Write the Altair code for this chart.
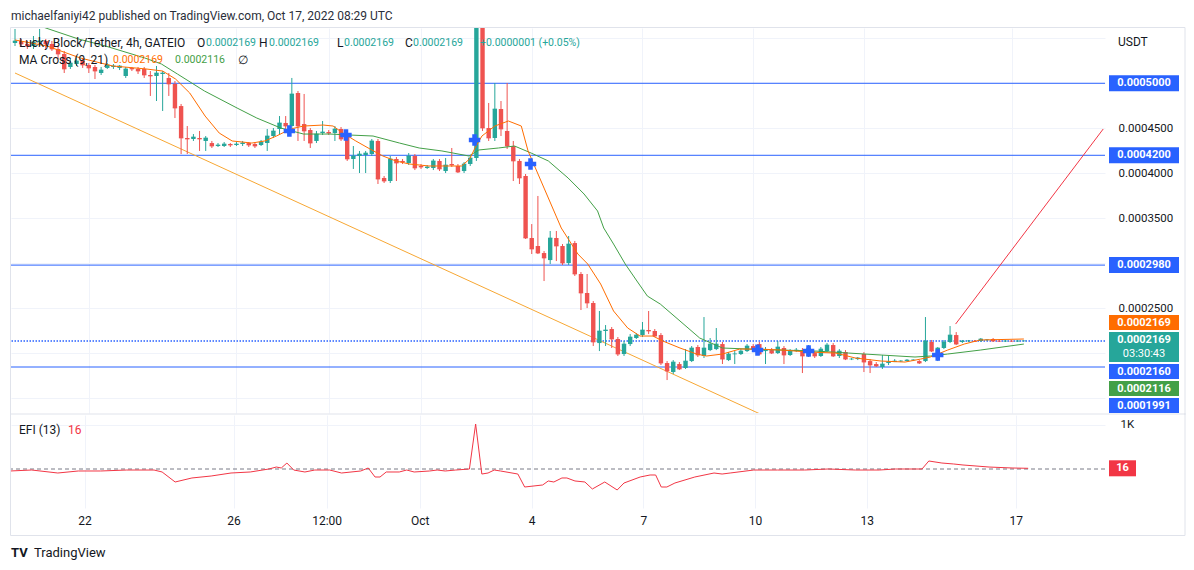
import altair as alt
import numpy as np
import pandas as pd

UNIT = 1e-7                      # prices below are in units of 0.0000001 USDT
START = pd.Timestamp("2022-09-20 00:00")
BAR_HOURS = 4

# ---------------- 4h candles (LKB/USDT) ----------------
open_ = [5447, 5470, 5436, 5414, 5459, 5470, 5436, 5381, 5325, 5181,
         5214, 5248, 5203, 5181, 5114, 5170, 5181, 5170, 5081, 5170,
         5159, 5159, 5092, 5081, 5103, 5059, 4992, 4747, 4392, 4381,
         4392, 4359, 4336, 4303, 4303, 4325, 4314, 4325, 4336, 4325,
         4314, 4336, 4414, 4492, 4559, 4525, 4892, 4547, 4481, 4359,
         4447, 4459, 4447, 4492, 4414, 4159, 4192, 4203, 4214, 4359,
         3948, 3914, 4159, 4137, 4114, 4192, 4081, 4059, 4059, 4137,
         4025, 4103, 4081, 4025, 4103, 4170, 6500, 4503, 4392, 4714,
         4470, 4303, 4137, 3970, 3281, 3192, 3114, 3036, 3281, 3192,
         3003, 3225, 2881, 2670, 2559, 2114, 2248, 2270, 2159, 1992,
         2103, 2170, 2203, 2259, 2248, 2203, 1892, 1792, 1881, 1837,
         1914, 2070, 1970, 2036, 2047, 2103, 1925, 1992, 1992, 2025,
         2081, 2103, 2025, 2036, 2003, 2059, 1981, 2025, 2036, 1970,
         2003, 1970, 2025, 2092, 1970, 2014, 1936, 1936, 1992, 1914,
         1881, 1848, 1892, 1903, 1914, 1914, 1925, 1914, 1914, 2126,
         2003, 2059, 2126, 2203, 2126, 2137, 2138, 2137, 2148, 2159,
         2137, 2135, 2137, 2135, 2137]
high = [5603, 5492, 5470, 5525, 5603, 5492, 5470, 5414, 5359, 5270,
        5303, 5270, 5225, 5203, 5181, 5225, 5214, 5203, 5181, 5181,
        5181, 5181, 5136, 5192, 5136, 5114, 5025, 4770, 4525, 4436,
        4470, 4414, 4359, 4336, 4347, 4336, 4347, 4359, 4347, 4347,
        4370, 4492, 4503, 4636, 4636, 5059, 4914, 4881, 4503, 4470,
        4581, 4481, 4525, 4514, 4436, 4303, 4248, 4248, 4381, 4381,
        3970, 4192, 4181, 4159, 4225, 4214, 4103, 4092, 4159, 4159,
        4170, 4281, 4103, 4125, 4192, 6800, 6900, 4781, 5003, 4803,
        5003, 4359, 4159, 3992, 3436, 3748, 3136, 3359, 3359, 3214,
        3303, 3248, 2903, 2881, 2581, 2470, 2314, 2292, 2181, 2137,
        2214, 2225, 2348, 2470, 2270, 2225, 1914, 1925, 1903, 2047,
        2081, 2092, 2403, 2170, 2281, 2126, 2014, 2025, 2047, 2103,
        2103, 2126, 2070, 2059, 2137, 2081, 2047, 2059, 2059, 2092,
        2025, 2070, 2114, 2114, 2047, 2036, 1948, 1959, 2014, 1936,
        1903, 1981, 1970, 1936, 1925, 1936, 1936, 1925, 2403, 2148,
        2070, 2148, 2303, 2236, 2148, 2148, 2148, 2170, 2159, 2170,
        2148, 2148, 2148, 2148, 2140]
low = [5414, 5414, 5381, 5381, 5414, 5381, 5359, 5270, 5114, 5159,
       5192, 5170, 5114, 5047, 5092, 5159, 5159, 5147, 5059, 5136,
       5103, 5059, 4859, 4803, 4692, 4859, 4614, 4214, 4214, 4359,
       4248, 4248, 4281, 4292, 4292, 4292, 4303, 4303, 4292, 4281,
       4303, 4248, 4392, 4436, 4470, 4503, 4359, 4359, 4281, 4336,
       4425, 4425, 4359, 4359, 4137, 4048, 4003, 4003, 4192, 3881,
       3892, 3892, 3914, 4103, 4092, 4036, 4048, 4048, 4036, 4025,
       4003, 4070, 4003, 4003, 4081, 4137, 4470, 4359, 4359, 4414,
       4270, 3914, 3881, 3270, 3103, 3103, 2803, 2992, 3025, 2981,
       2981, 2859, 2481, 2503, 2081, 2025, 2081, 2059, 1970, 1970,
       2081, 2159, 2181, 2214, 2181, 1870, 1703, 1770, 1814, 1826,
       1903, 1959, 1948, 2025, 2036, 1881, 1914, 1881, 1981, 2014,
       2025, 1981, 1881, 1992, 1992, 1881, 1970, 2014, 1781, 1959,
       1948, 1959, 2014, 1959, 1948, 1925, 1925, 1925, 1792, 1781,
       1848, 1826, 1870, 1903, 1903, 1914, 1914, 1881, 1903, 2014,
       1914, 2047, 2114, 2092, 2114, 2126, 2126, 2126, 2137, 2126,
       2126, 2126, 2126, 2126, 2135]
close = [5470, 5436, 5414, 5459, 5470, 5436, 5381, 5325, 5159, 5225,
         5248, 5203, 5170, 5136, 5147, 5203, 5192, 5192, 5159, 5159,
         5136, 5092, 5081, 5114, 5114, 4992, 4725, 4392, 4381, 4403,
         4381, 4392, 4303, 4314, 4325, 4314, 4325, 4336, 4314, 4303,
         4347, 4414, 4470, 4559, 4525, 4881, 4525, 4470, 4336, 4436,
         4459, 4447, 4492, 4381, 4159, 4192, 4214, 4225, 4359, 3936,
         3914, 4159, 4114, 4125, 4192, 4059, 4070, 4070, 4137, 4048,
         4092, 4092, 4014, 4103, 4170, 6600, 4503, 4392, 4714, 4492,
         4303, 4137, 3948, 3281, 3159, 3114, 3059, 3281, 3192, 3003,
         3214, 2881, 2670, 2559, 2126, 2248, 2259, 2159, 1992, 2103,
         2181, 2203, 2259, 2248, 2192, 1892, 1803, 1903, 1826, 1914,
         2059, 1981, 2059, 2103, 2103, 1936, 1992, 1994, 2025, 2081,
         2047, 1992, 2036, 2003, 2070, 1981, 2025, 2036, 1970, 2059,
         1970, 2047, 2092, 1970, 2025, 1936, 1937, 1948, 1903, 1870,
         1859, 1881, 1903, 1914, 1915, 1925, 1926, 1892, 2137, 2025,
         2059, 2126, 2203, 2103, 2137, 2138, 2132, 2159, 2150, 2137,
         2135, 2137, 2135, 2137, 2138]

# MA Cross (9, 21) lines: bar number -> value
ma9_bar = [0, 5.2, 10.6, 15.9, 21.3, 24.0, 26.1, 28.4, 30.9, 33.2, 35.3, 38.5, 40.6, 42.5,
           44.8, 46.9, 50.1, 51.7, 53.3, 55.4, 57.7, 59.8, 61.9, 64.1, 67.3, 70.6, 72.6,
           73.9, 74.7, 75.9, 78.0, 80.2, 82.3, 83.4, 86.0, 88.8, 91.5, 93.1, 95.2, 97.3,
           99.6, 101.6, 103.7, 105.3, 108.1, 110.8, 112.4, 115.0, 117.8, 121.0, 124.7,
           129.0, 133.4, 136.6, 140.8, 144.7, 147.2, 148.8, 151.6, 154.3, 156.9, 164]
ma9_val = [5481, 5414, 5281, 5192, 5159, 5136, 5047, 4892, 4636, 4447, 4359, 4336, 4359, 4414,
           4492, 4525, 4536, 4525, 4447, 4359, 4270, 4192, 4137, 4103, 4081, 4081, 4081,
           4159, 4270, 4414, 4525, 4581, 4525, 4248, 3836, 3392, 3103, 2992, 2770, 2470,
           2281, 2192, 2192, 2137, 2059, 1992, 1970, 1992, 2047, 2047, 2036,
           2014, 2003, 1948, 1914, 1903, 1936, 1959, 2036, 2103, 2148, 2159]
ma21_bar = [0, 5.0, 10.3, 14.7, 21.1, 23.8, 26.4, 30.8, 36.1, 39.3, 43.2, 46.9, 51.2, 54.4,
            58.2, 62.5, 65.7, 69.4, 73.8, 75.4, 78.6, 81.2, 83.9, 86.7, 89.9, 92.5, 94.7,
            95.7, 97.3, 99.2, 101.1, 102.8, 104.9, 108.1, 111.3, 115.0, 119.4, 124.7,
            130.2, 135.5, 140.8, 146.3, 148.8, 151.6, 156.9, 164]
ma21_val = [5736, 5614, 5492, 5414, 5281, 5214, 5103, 4914, 4725, 4614, 4503, 4436, 4436, 4425,
            4414, 4336, 4281, 4248, 4192, 4259, 4281, 4303, 4225, 4137, 3948, 3770, 3581,
            3392, 3214, 2992, 2803, 2636, 2547, 2359, 2170, 2059, 2047, 2036,
            2025, 2003, 1981, 1959, 1970, 1992, 2036, 2103]
cross_bar = [44.6, 53.8, 74.7, 83.8, 120.7, 129.0, 150.0]
cross_val = [4470, 4425, 4370, 4103, 2036, 2025, 1981]

# drawings
hline_val = [5000, 4200, 2980, 1848]
hline_lab = ["0.0005000", "0.0004200", "0.0002980"]
dotted_val = 2137
trend_bar = [0, 127.4]
trend_val = [5114, 1130]
ray_bar = [152.9, 176.9]
ray_val = [2325, 4492]

# Elder's Force Index (13)
efi_bar = [0, 3.5, 7.7, 11, 14.6, 18.8, 23.2, 24.5, 26.6, 29.3, 32.4, 35.6, 38.7, 41.7,
           42.9, 43.7, 44.6, 45.7, 47.5, 49.1, 51.5, 53.4, 56.5, 57.7, 58.8, 59.6, 60.6,
           62.7, 63.9, 65.1, 67.6, 68.8, 70.1, 71.8, 74, 75, 76, 77, 78, 79, 81.8, 82.9,
           85.8, 86.7, 87.6, 88.9, 89.7, 91.0, 92.6, 93.8, 95.8, 97.8, 98.9, 101.5, 103.1,
           104.0, 104.9, 105.8, 107.1, 110.3, 113.4, 114.7, 116.0, 119.8, 123.6, 128.0,
           131.8, 136.2, 140.0, 142.6, 146.9, 148.0, 150.1, 152.0, 153.5, 157.7, 161.4, 164]
efi_val = [-45, -23, -91, -45, -45, -23, -23, -68, -295, -204, -159, -91, -68, 0,
           45, 23, 136, -23, -68, -23, -23, -91, -45, 23, -182, -182, -68,
           -68, -23, -68, -45, -23, -45, -23, 0, 1022, -114, -91, -23, -45, -114, -409,
           -363, -272, -295, -204, -204, -272, -295, -454, -295, -477, -318, -182, -136,
           -136, -409, -409, -318, -182, -91, -114, -91, -23, -23, -23,
           0, -23, -23, 0, 0, 182, 136, 114, 91, 45, 23, 16]
efi_last = 16

tick_dates = ["2022-09-22", "2022-09-26", "2022-09-28 12:00", "2022-10-01", "2022-10-04",
              "2022-10-07", "2022-10-10", "2022-10-13", "2022-10-17"]
tick_labels = ["22", "26", "12:00", "Oct", "4", "7", "10", "13", "17"]
price_ticks = [0.00015, 0.0002, 0.00025, 0.0003, 0.00035, 0.0004, 0.00045, 0.0005, 0.00055]
price_shown = ["0.0002500", "0.0003500", "0.0004000", "0.0004500"]

# ---------------- styling / layout ----------------
UP, DOWN = "#26a69a", "#ef5350"
BLUE, ORANGE, GREEN = "#2962ff", "#ff6d00", "#43a047"
TREND, RAY, EFI_C = "#f7a733", "#f23645", "#f23645"
GRID, BORDER, TEXT = "#f0f3fa", "#e0e3eb", "#131722"
FONT = "Roboto"

W, H1, H2, GAP = 1094, 385, 93, 2
X0, Y0 = 10, 27
P_HI, P_LO = 5614 * UNIT, 1337 * UNIT
E_HI, E_LO = 1227, -886
T_LO, T_HI = 0.644, 705.5

ONE = pd.DataFrame({"k": [0]})


def hours(bars):
    return np.asarray(bars, dtype=float) * BAR_HOURS


tick_h = [(pd.Timestamp(d) - START) / pd.Timedelta(hours=1) for d in tick_dates]
x_expr = "''"
for hv, lab in reversed(list(zip(tick_h, tick_labels))):
    x_expr = f"datum.value == {hv:g} ? '{lab}' : ({x_expr})"
p_expr = ("indexof([" + ",".join(f"'{s}'" for s in price_shown) +
          "], format(datum.value, '.7f')) >= 0 ? format(datum.value, '.7f') : ''")

XS = alt.Scale(domain=[T_LO, T_HI], nice=False, zero=False)
PS = alt.Scale(domain=[P_LO, P_HI], nice=False, zero=False)
ES = alt.Scale(domain=[E_LO, E_HI], nice=False, zero=False)

x_axis_top = alt.Axis(values=tick_h, labels=False, ticks=False, domain=False, grid=True,
                      gridColor=GRID, title=None)
x_axis_bot = alt.Axis(values=tick_h, labelExpr=x_expr, ticks=False, domain=False, grid=True,
                      gridColor=GRID, title=None, labelPadding=7, labelFontSize=12,
                      labelColor=TEXT, labelFont=FONT, labelFlush=False)
p_axis = alt.Axis(orient="right", values=price_ticks, labelExpr=p_expr, grid=True,
                  gridColor=GRID, domain=False, ticks=False, labelPadding=13,
                  labelFontSize=11.5, labelColor=TEXT, labelFont=FONT, title=None)
e_axis = alt.Axis(orient="right", values=[1000], labelExpr="'1K'", grid=True, gridColor=GRID,
                  domain=False, ticks=False, labelPadding=15, labelFontSize=11.5,
                  labelColor=TEXT, labelFont=FONT, title=None)


def X(f, axis):
    return alt.X(f"{f}:Q", scale=XS, axis=axis)


def PY(f):
    return alt.Y(f"{f}:Q", scale=PS, axis=p_axis)


def EY(f):
    return alt.Y(f"{f}:Q", scale=ES, axis=e_axis)


def txt(s, x, y, color=TEXT, size=12, weight="normal", align="left"):
    return alt.Chart(ONE).mark_text(text=s, color=color, fontSize=size, fontWeight=weight,
                                    align=align, baseline="middle", font=FONT).encode(
        x=alt.value(x), y=alt.value(y))


def seg(x1, x2, y1, y2, color=BORDER, w=1):
    return alt.Chart(ONE).mark_rule(color=color, strokeWidth=w).encode(
        x=alt.value(x1), x2=alt.value(x2), y=alt.value(y1), y2=alt.value(y2))


# ---------------- data frames ----------------
cdf = pd.DataFrame({"t": hours(range(len(close))),
                    "open": np.array(open_) * UNIT, "high": np.array(high) * UNIT,
                    "low": np.array(low) * UNIT, "close": np.array(close) * UNIT})
cdf["dir"] = np.where(cdf["close"] >= cdf["open"], "up", "down")
dir_color = alt.Color("dir:N", scale=alt.Scale(domain=["up", "down"], range=[UP, DOWN]),
                      legend=None)

ma9 = pd.DataFrame({"t": hours(ma9_bar), "v": np.array(ma9_val) * UNIT})
ma21 = pd.DataFrame({"t": hours(ma21_bar), "v": np.array(ma21_val) * UNIT})
crosses = pd.DataFrame({"t": hours(cross_bar), "v": np.array(cross_val) * UNIT})
hl = pd.DataFrame({"v": np.array(hline_val) * UNIT})
dot = pd.DataFrame({"v": [dotted_val * UNIT]})
trend = pd.DataFrame({"t": hours(trend_bar), "v": np.array(trend_val) * UNIT})
ray = pd.DataFrame({"t": hours(ray_bar), "v": np.array(ray_val) * UNIT})
efi = pd.DataFrame({"t": hours(efi_bar), "v": efi_val})
labs = pd.DataFrame({"v": np.array(hline_val[:3]) * UNIT, "txt": hline_lab})

# stacked price-scale labels (bottom -> top), pushed apart like TradingView does
stack = [("0.0001991", BLUE, 15), ("0.0002116", GREEN, 15), ("0.0002160", BLUE, 15),
         ("0.0002169", UP, 30), ("0.0002169", ORANGE, 15)]
rows, bottom = [], H1
for s, col, hh in stack:
    cy = bottom - hh / 2
    rows.append({"txt": s, "col": col, "h": hh,
                 "v": P_HI - cy / H1 * (P_HI - P_LO)})
    bottom -= hh + 2
sdf = pd.DataFrame(rows)
LBL_X = 1143 - X0

# ---------------- price pane ----------------
base_x = X("t", x_axis_top)
NUM = 10.5  # digits in the legend use a slightly smaller size (narrower figures)
layers = [
    alt.Chart(hl).mark_rule(color=BLUE, strokeWidth=1).encode(y=PY("v")),
    alt.Chart(dot).mark_rule(color=BLUE, strokeWidth=1.5, strokeDash=[1.5, 1.5]).encode(y=PY("v")),
    alt.Chart(trend).mark_line(color=TREND, strokeWidth=1, clip=True).encode(x=base_x, y=PY("v")),
    alt.Chart(cdf).mark_rule(strokeWidth=1, clip=True).encode(
        x=base_x, y=PY("low"), y2="high", color=dir_color),
    alt.Chart(cdf).mark_bar(size=4.4, orient="vertical", clip=True).encode(
        x=base_x, y=PY("open"), y2="close", color=dir_color),
    alt.Chart(cdf).mark_tick(orient="horizontal", size=4.4, thickness=1, clip=True).encode(
        x=base_x, y=PY("close"), color=dir_color),
    alt.Chart(ma21).mark_line(color=GREEN, strokeWidth=1, clip=True).encode(x=base_x, y=PY("v")),
    alt.Chart(ma9).mark_line(color=ORANGE, strokeWidth=1, clip=True).encode(x=base_x, y=PY("v")),
    alt.Chart(crosses).mark_point(shape="cross", filled=True, size=130, color=BLUE, opacity=1,
                                  clip=True).encode(x=base_x, y=PY("v")),
    alt.Chart(ray).mark_line(color=RAY, strokeWidth=1).encode(x=base_x, y=PY("v")),
    # price-scale labels
    alt.Chart(labs).mark_tick(orient="horizontal", size=70, thickness=16, color=BLUE,
                              opacity=1).encode(x=alt.value(LBL_X), y=PY("v")),
    alt.Chart(labs).mark_text(color="white", fontWeight="bold", fontSize=11, font=FONT,
                              align="center", baseline="middle").encode(
        x=alt.value(LBL_X), y=PY("v"), text="txt:N"),
    alt.Chart(sdf[sdf.h == 15]).mark_tick(orient="horizontal", size=70, thickness=15,
                                          opacity=1).encode(
        x=alt.value(LBL_X), y=PY("v"), color=alt.Color("col:N", scale=None)),
    alt.Chart(sdf[sdf.h == 30]).mark_tick(orient="horizontal", size=70, thickness=30,
                                          opacity=1).encode(
        x=alt.value(LBL_X), y=PY("v"), color=alt.Color("col:N", scale=None)),
    alt.Chart(sdf[sdf.h == 15]).mark_text(color="white", fontWeight="bold", fontSize=11,
                                          font=FONT, align="center", baseline="middle").encode(
        x=alt.value(LBL_X), y=PY("v"), text="txt:N"),
    alt.Chart(sdf[sdf.h == 30]).mark_text(color="white", fontWeight="bold", fontSize=11,
                                          font=FONT, align="center", baseline="middle",
                                          dy=-7).encode(
        x=alt.value(LBL_X), y=PY("v"), text="txt:N"),
    alt.Chart(sdf[sdf.h == 30]).mark_text(text="03:30:43", color="white", fontSize=11,
                                          font=FONT, align="center", baseline="middle",
                                          dy=7).encode(x=alt.value(LBL_X), y=PY("v")),
    # texts
    txt("michaelfaniyi42 published on TradingView.com, Oct 17, 2022 08:29 UTC", 0, -12,
        color="#2a2e39"),
    txt("USDT", 1107, 14),
    txt("Lucky Block/Tether, 4h, GATEIO", 8, 15),
    txt("O", 186, 15), txt("0.0002169", 195, 15, UP, NUM),
    txt("H", 248, 15), txt("0.0002169", 258, 15, UP, NUM),
    txt("L", 326, 15), txt("0.0002169", 333, 15, UP, NUM),
    txt("C", 394, 15), txt("0.0002169", 402, 15, UP, NUM),
    txt("+0.0000001 (+0.05%)", 469, 15, UP, NUM),
    txt("MA Cross (9, 21)", 8, 32), txt("0.0002169", 102, 32, ORANGE, NUM),
    txt("0.0002116", 164, 32, GREEN, NUM), txt("\u2205", 227, 32),
    # frame
    seg(-0.5, 1174, -0.5, -0.5), seg(-0.5, -0.5, -0.5, H1 + 2),
    seg(1174, 1174, -0.5, H1 + 2), seg(-0.5, 1174, H1 + 1, H1 + 1),
]
price = alt.layer(*layers).properties(width=W, height=H1)

# ---------------- EFI pane ----------------
ex = X("t", x_axis_bot)
efi_layers = [
    alt.Chart(pd.DataFrame({"v": [0]})).mark_rule(color="#787b86", strokeWidth=1,
                                                  strokeDash=[4, 3]).encode(y=EY("v")),
    alt.Chart(efi).mark_line(color=EFI_C, strokeWidth=1, clip=True).encode(x=ex, y=EY("v")),
    alt.Chart(pd.DataFrame({"v": [efi_last], "txt": [str(efi_last)]})).mark_tick(
        orient="horizontal", size=27, thickness=16, color=EFI_C, opacity=1).encode(
        x=alt.value(1121.5 - X0), y=EY("v")),
    alt.Chart(pd.DataFrame({"v": [efi_last], "txt": [str(efi_last)]})).mark_text(
        color="white", fontWeight="bold", fontSize=11, font=FONT, align="center",
        baseline="middle").encode(x=alt.value(1121.5 - X0), y=EY("v"), text="txt:N"),
    txt("EFI (13)", 8, 15), txt(str(efi_last), 57, 15, EFI_C),
    txt("TV", 0, 138, color="#131722", size=13, weight="bold"),
    txt("TradingView", 23, 138, color="#131722", size=13),
    seg(-0.5, -0.5, -2, 120.5), seg(1174, 1174, -2, 120.5), seg(-0.5, 1174, 120.5, 120.5),
]
efi_chart = alt.layer(*efi_layers).properties(width=W, height=H2)

# default "pad" autosize: the content's top-left bound is the header text (~18px above the
# pane) and the 1px frame, so the padding is reduced by those amounts.
chart = alt.vconcat(price, efi_chart, spacing=GAP, bounds="flush").properties(
    padding={"left": X0 - 1, "top": Y0 - 18, "right": 0, "bottom": 0},
    background="white",
).configure_view(stroke="transparent")

chart.save("out.html", embed_options={"renderer": "svg", "actions": False})
